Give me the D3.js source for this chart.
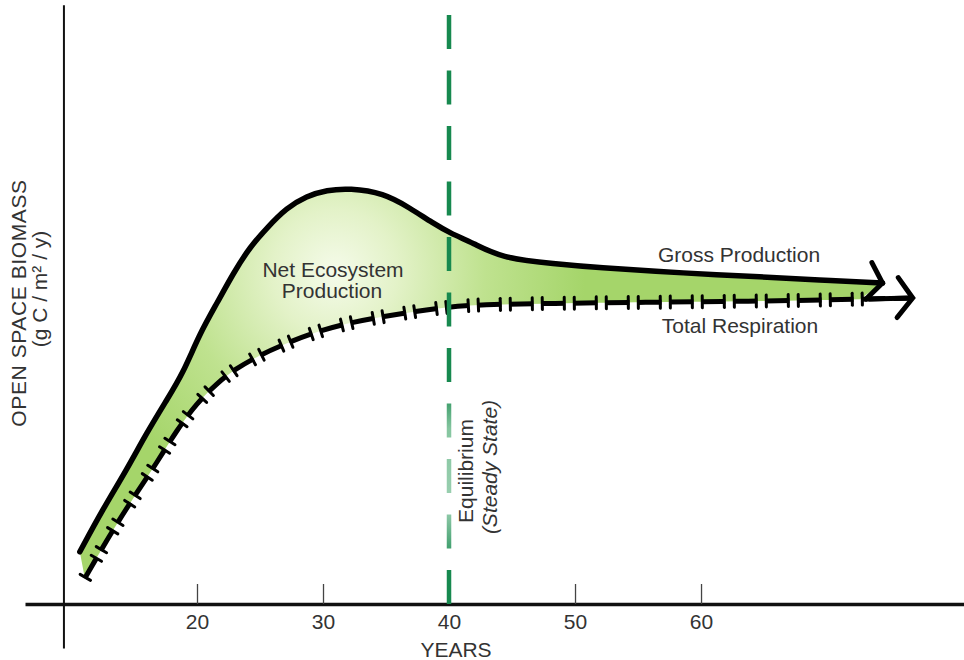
<!DOCTYPE html>
<html><head><meta charset="utf-8">
<script src="https://cdn.jsdelivr.net/npm/d3@7"></script>
<style>
html,body{margin:0;padding:0;background:#fff;}
svg{display:block;font-family:"Liberation Sans",Arial,Helvetica,sans-serif;}
</style>
</head><body>
<svg id="c" width="964" height="660"></svg>
<script>
// ---- data (years, biomass in arbitrary units) ----
const grossYears  = [10.7, 12.5, 14.4, 16.0, 17.6, 18.9, 20.2, 21.6, 22.9, 24.2, 25.6, 27.1, 28.7, 30.3, 32.1, 34.8, 36.9, 38.7, 40.1, 41.9, 44.1, 48.3, 52.2, 56.2, 61.5, 65.2, 69.2, 74.4];
const grossValues = [8.7, 15.7, 22.3, 28.5, 34.0, 38.5, 45.0, 50.2, 55.2, 59.5, 62.8, 66.0, 68.0, 69.0, 69.3, 68.5, 66.0, 63.5, 61.8, 60.2, 57.7, 56.7, 56.0, 55.5, 54.8, 54.5, 54.0, 53.5];
const respYears   = [11.1, 13.3, 15.2, 16.8, 18.4, 20.0, 21.6, 22.9, 25.0, 26.8, 29.2, 31.9, 34.5, 37.1, 39.8, 42.5, 48.0, 56.0, 61.5, 67.9, 72.6, 76.8];
const respValues  = [4.3, 12.3, 18.5, 23.5, 29.0, 33.5, 36.8, 39.0, 41.5, 43.2, 45.2, 46.8, 47.8, 48.7, 49.5, 49.9, 50.1, 50.3, 50.4, 50.6, 50.8, 51.0];
const tickYears   = [20, 30, 40, 50, 60];
const equilibriumYear = 40;
const yAxisYear = 9.44;

const svg = d3.select("#c");
const x = d3.scaleLinear().domain([6.35, 80.87]).range([25, 964]);
const y = d3.scaleLinear().domain([0, 100]).range([604, 4]);
const FONT = '"Liberation Sans",Arial,Helvetica,sans-serif';
const TXT = "#333";

const defs = svg.append("defs");
const rg = defs.append("radialGradient").attr("id","neGrad")
  .attr("gradientUnits","userSpaceOnUse").attr("cx",335).attr("cy",272).attr("r",250);
[[0,"#f5fbea"],[0.25,"#e3f2c8"],[0.6,"#bfe28f"],[1,"#a5d56a"]].forEach(s=>
  rg.append("stop").attr("offset",s[0]).attr("stop-color",s[1]));
const lg = defs.append("linearGradient").attr("id","eqGrad")
  .attr("gradientUnits","userSpaceOnUse").attr("x1",0).attr("x2",0).attr("y1",0).attr("y2",y(0));
[[0,"#17894f"],[0.64,"#17894f"],[0.71,"#86c6a0"],[0.84,"#9cd0b2"],[0.94,"#17894f"],[1,"#17894f"]].forEach(s=>
  lg.append("stop").attr("offset",s[0]).attr("stop-color",s[1]));

// ---- axes ----
const xAxis = d3.axisBottom(x).tickValues(tickYears).tickSizeInner(-20).tickSizeOuter(0).tickPadding(10);
const gx = svg.append("g").attr("transform",`translate(0,${y(0)})`).call(xAxis)
  .attr("font-family",FONT).attr("font-size",21);
gx.select(".domain").attr("stroke","#111").attr("stroke-width",3.5);
gx.selectAll(".tick line").attr("stroke","#444").attr("stroke-width",1.3);
gx.selectAll(".tick text").attr("fill",TXT);

svg.append("line").attr("x1",x(yAxisYear)).attr("x2",x(yAxisYear))
  .attr("y1",y(99.8)).attr("y2",y(-7.4)).attr("stroke","#111").attr("stroke-width",2);

// ---- curves ----
const gross = grossYears.map((d,i)=>[d,grossValues[i]]);
const resp  = respYears.map((d,i)=>[d,respValues[i]]);
const line = d3.line().x(d=>x(d[0])).y(d=>y(d[1])).curve(d3.curveBasis);

const lastGross = grossYears[grossYears.length-1];
const respFill = resp.filter(d=>d[0] <= lastGross - 1.5).reverse();
const fillD = line(gross) + "L" + line(respFill).slice(1) + "Z";
svg.append("path").attr("d",fillD).attr("fill","url(#neGrad)");

// respiration dashed line with end caps
const respPath = svg.append("path").attr("d",line(resp)).attr("fill","none")
  .attr("stroke","#000").attr("stroke-width",5).attr("stroke-dasharray","24 8");
const rNode = respPath.node();
const rLen = rNode.getTotalLength();
const capG = svg.append("g").attr("stroke","#000").attr("stroke-width",3).attr("stroke-linecap","round");
function capAt(l){
  const a = rNode.getPointAtLength(Math.max(0,l-1)), b = rNode.getPointAtLength(Math.min(rLen,l+1));
  const p = rNode.getPointAtLength(l);
  let dx=b.x-a.x, dy=b.y-a.y; const n=Math.hypot(dx,dy)||1; dx/=n; dy/=n;
  const h=6;
  capG.append("line").attr("x1",p.x-dy*h).attr("y1",p.y+dx*h).attr("x2",p.x+dy*h).attr("y2",p.y-dx*h);
}
for(let l=0; l<rLen-45; l+=32){ capAt(l+1); if(l+23 < rLen-45) capAt(l+23); }
{
  const a = rNode.getPointAtLength(rLen-44), b = rNode.getPointAtLength(rLen);
  svg.append("line").attr("x1",a.x).attr("y1",a.y).attr("x2",b.x).attr("y2",b.y)
    .attr("stroke","#000").attr("stroke-width",5);
}

// gross production line
svg.append("path").attr("d",line(gross)).attr("fill","none")
  .attr("stroke","#000").attr("stroke-width",5.5).attr("stroke-linecap","round").attr("stroke-linejoin","round");

// arrow heads
function arrow(series, upAng, downAng, len){
  const n=series.length, t=series[n-1], p=series[n-2];
  const tx=x(t[0]), ty=y(t[1]), px=x(p[0]), py=y(p[1]);
  let bx=px-tx, by=py-ty; const m=Math.hypot(bx,by); bx/=m; by/=m;
  const rot=(ang)=>{const r=ang*Math.PI/180; return [bx*Math.cos(r)-by*Math.sin(r), bx*Math.sin(r)+by*Math.cos(r)];};
  const u=rot(upAng), d=rot(downAng);
  svg.append("path").attr("d",`M${tx+u[0]*len},${ty+u[1]*len}L${tx},${ty}L${tx+d[0]*len},${ty+d[1]*len}`)
    .attr("fill","none").attr("stroke","#000").attr("stroke-width",5)
    .attr("stroke-linecap","round").attr("stroke-linejoin","miter");
}
arrow(gross, 60, -47, 23);
arrow(resp, 56, -50, 25);

// equilibrium line
svg.append("line").attr("x1",x(equilibriumYear)).attr("x2",x(equilibriumYear))
  .attr("y1",15).attr("y2",y(0)).attr("stroke","url(#eqGrad)")
  .attr("stroke-width",4.5).attr("stroke-dasharray","34 21.5");

// ---- text ----
function txt(tx,ty,s,opts={}){
  const t = svg.append("text").attr("x",tx).attr("y",ty).attr("text-anchor","middle")
    .attr("font-family",FONT).attr("font-size",opts.size||21).attr("fill",TXT).text(s);
  if(opts.rot) t.attr("transform",`rotate(-90,${tx},${ty})`);
  if(opts.italic) t.attr("font-style","italic");
  if(opts.ls) t.attr("letter-spacing",opts.ls);
  return t;
}
txt(456, 657, "YEARS");
txt(26, 303, "OPEN SPACE BIOMASS", {rot:true, ls:0.6});
txt(47, 289, "(g C / m² / y)", {rot:true});
txt(333, 277, "Net Ecosystem");
txt(332, 298, "Production");
txt(739, 262, "Gross Production");
txt(740, 333, "Total Respiration");
txt(x(equilibriumYear)+24, 471, "Equilibrium", {rot:true});
txt(x(equilibriumYear)+48, 467, "(Steady State)", {rot:true, italic:true});
</script>
</body></html>
